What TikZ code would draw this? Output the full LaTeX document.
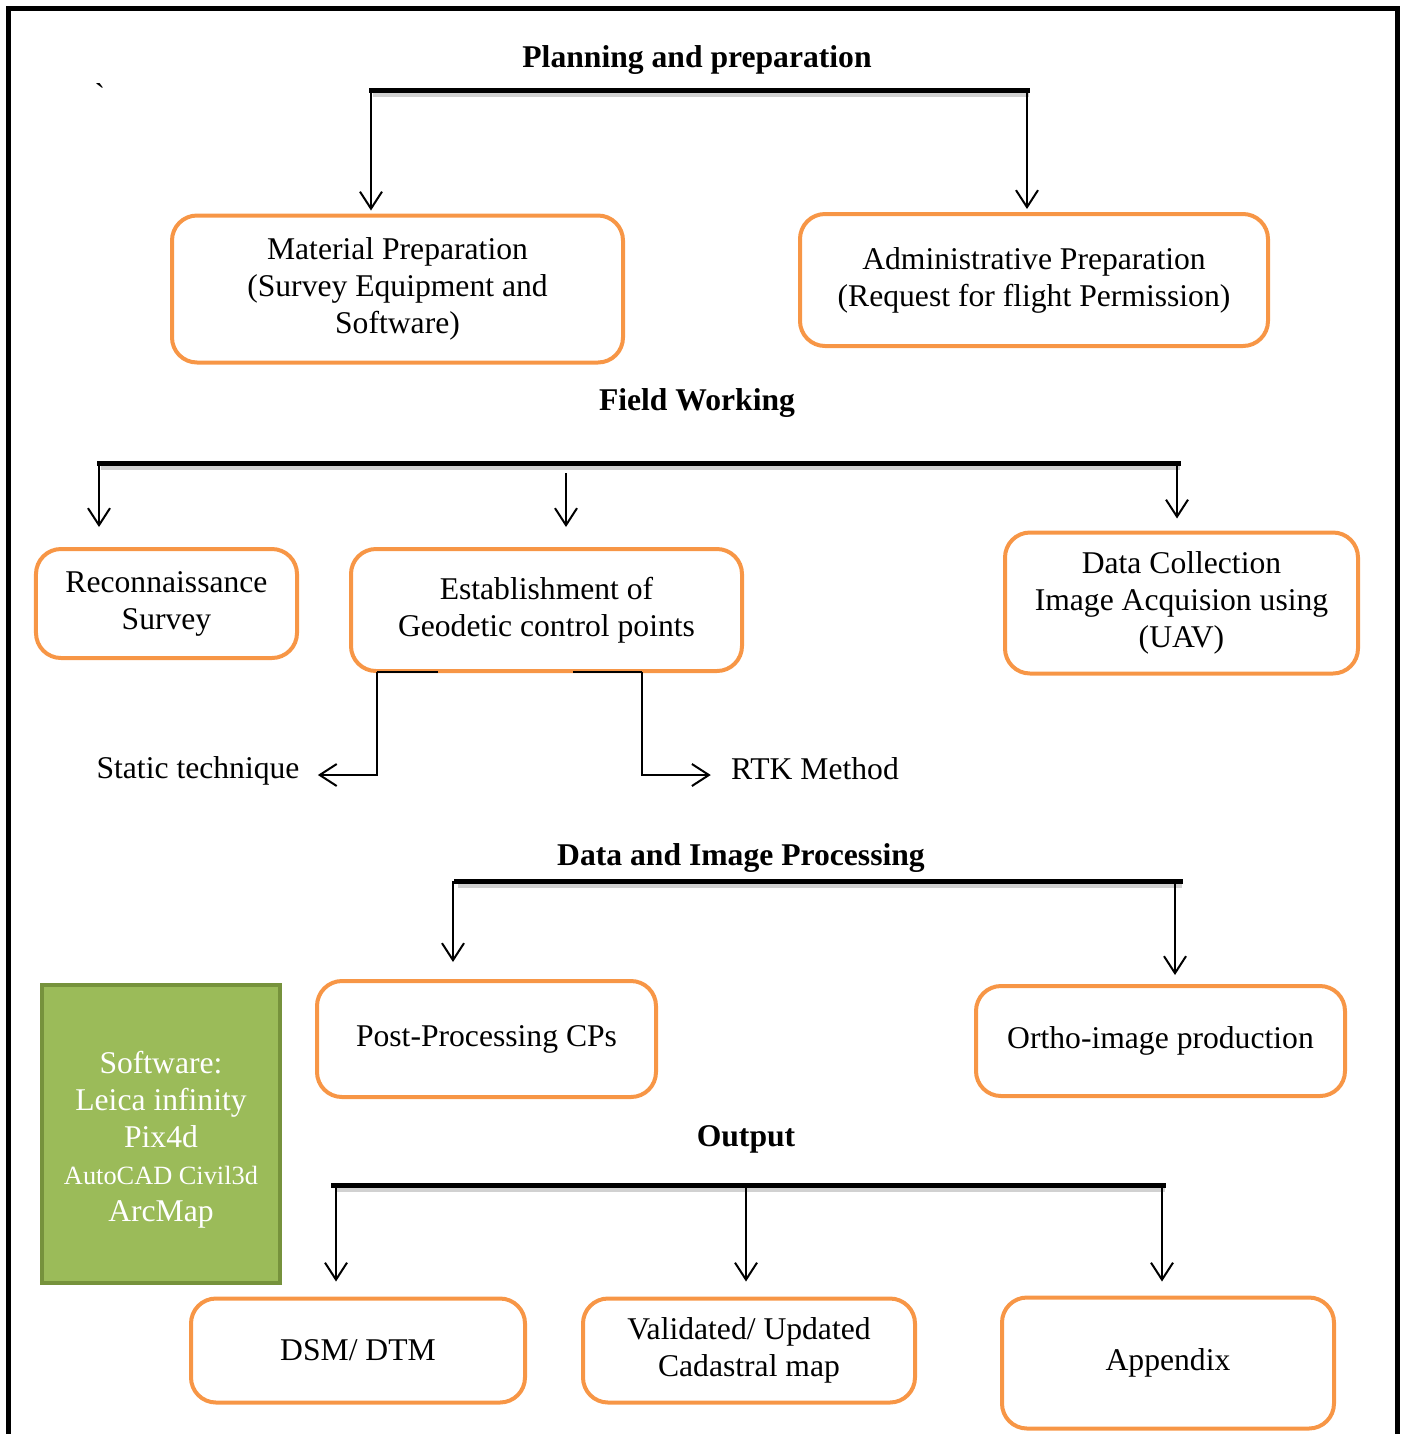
\documentclass[tikz,border=0pt]{standalone}
\usepackage{fontspec}
\setmainfont{Liberation Serif}
\usetikzlibrary{positioning,calc}
\usetikzlibrary{arrows.meta}
\definecolor{boxorange}{HTML}{F79646}
\definecolor{softgreen}{HTML}{9BBB59}
\definecolor{softgreendark}{HTML}{76923C}
\tikzstyle{stage} = [rectangle, rounded corners=0.25cm, draw=boxorange, line width=0.04cm, align=center, inner sep=0pt]
\tikzstyle{heading} = [font=\fontsize{9}{10.5}\selectfont\bfseries]
\tikzstyle{arrow} = [line width=0.02cm, -{Straight Barb[length=0.17cm,width=0.22cm]}]
\tikzstyle{bar} = [line width=0.05cm, line cap=rect]
\tikzstyle{barshadow} = [line width=0.06cm, black!18]

\begin{document}
\begin{tikzpicture}[font=\fontsize{9}{10.5}\selectfont]
						\useasboundingbox (0,0) rectangle (14.03,-14.34);
						\draw[line width=0.05cm] (0.085,-14.34) -- (0.085,-0.085) -- (13.975,-0.085) -- (13.975,-14.34);
						\node (tick) at (1.0,-0.94) {\textasciigrave};
						% planning
						\node at (6.97,-0.60) [heading] (plan) {Planning and preparation};
						\node at (3.975,-2.89) [stage, minimum width=4.51cm, minimum height=1.47cm] (mat) {Material Preparation\\(Survey Equipment and\\Software)};
						\node at (10.34,-2.80) [stage, minimum width=4.68cm, minimum height=1.32cm] (adm) {Administrative Preparation\\(Request for flight Permission)};
						\coordinate (pl) at (3.71,-0.90);
						\coordinate (pr) at (10.27,-0.90);
						% field working
						\node at (6.97,-4.03) [heading] (field) {Field Working};
						\node at (1.665,-6.035) [stage, minimum width=2.61cm, minimum height=1.09cm] (reco) {Reconnaissance\\Survey};
						\node at (5.465,-6.10) [stage, minimum width=3.91cm, minimum height=1.22cm] (est) {Establishment of\\Geodetic control points};
						\node at (11.815,-6.03) [stage, minimum width=3.53cm, minimum height=1.41cm] (data) {Data Collection\\Image Acquision using\\(UAV)};
						\node at (1.98,-7.71) (static) {Static technique};
						\node at (8.15,-7.69) (rtk) {RTK Method};
						\coordinate (fl) at (0.99,-4.63);
						\coordinate (fr) at (11.78,-4.63);
						% processing
						\node at (7.41,-8.58) [heading] (proc) {Data and Image Processing};
						\node at (4.865,-10.39) [stage, minimum width=3.39cm, minimum height=1.16cm] (post) {Post-Processing CPs};
						\node at (11.605,-10.41) [stage, minimum width=3.69cm, minimum height=1.10cm] (ortho) {Ortho-image production};
						\node at (1.61,-11.34) [rectangle, draw=softgreendark, fill=softgreen, line width=0.04cm, minimum width=2.38cm, minimum height=2.98cm, align=center, text=white] (soft) {\rule{0pt}{0.34cm}Software:\\Leica infinity\\Pix4d\\{\fontsize{7.5}{9}\selectfont AutoCAD Civil3d}\\ArcMap};
						\coordinate (dl) at (4.56,-8.81);
						\coordinate (dr) at (11.80,-8.81);
						% output
						\node at (7.46,-11.39) [heading] (out) {Output};
						\node at (3.58,-13.505) [stage, minimum width=3.34cm, minimum height=1.04cm] (dsm) {DSM/ DTM};
						\node at (7.49,-13.505) [stage, minimum width=3.32cm, minimum height=1.04cm] (val) {Validated/ Updated\\Cadastral map};
						\node at (11.68,-13.63) [stage, minimum width=3.32cm, minimum height=1.31cm] (app) {Appendix};
						\coordinate (ol) at (3.33,-11.85);
						\coordinate (or) at (11.63,-11.85);
						% bars
						\foreach \a/\b in {pl/pr, fl/fr, dl/dr, ol/or}
							\draw[barshadow] ($(\a)+(0.02,-0.04)$) -- ($(\b)+(0.02,-0.04)$);
						\foreach \a/\b in {pl/pr, fl/fr, dl/dr, ol/or}
							\draw[bar] (\a) -- (\b);
						% arrows
						\draw[arrow, shorten >=0.03cm] (pl) -- (pl |- mat.north);
						\draw[arrow, shorten >=0.03cm] (pr) -- (pr |- adm.north);
						\draw[arrow, shorten >=0.20cm] (fl) -- (fl |- reco.north);
						\draw[arrow, shorten <=0.10cm, shorten >=0.20cm] (5.66,-4.63) -- (5.66,-4.63 |- est.north);
						\draw[arrow, shorten >=0.12cm] (11.77,-4.63) -- (11.77,-4.63 |- data.north);
						\draw[line width=0.02cm] ($(est.south west)+(0.89,0.01)$) -- ++(-0.61,0);
						\draw[line width=0.02cm] ($(est.south west)+(2.24,0.01)$) -- ++(0.69,0);
						\draw[arrow] ($(est.south west)+(0.28,0.01)$) |- ($(static.east)+(0.06,-0.04)$);
						\draw[arrow] ($(est.south west)+(2.93,0.01)$) |- ($(rtk.west)+(-0.08,-0.06)$);
						\draw[arrow, shorten >=0.17cm] (4.53,-8.81) -- (4.53,-8.81 |- post.north);
						\draw[arrow, shorten >=0.09cm] (11.75,-8.81) -- (11.75,-8.81 |- ortho.north);
						\draw[arrow, shorten >=0.15cm] (3.36,-11.85) -- (3.36,-11.85 |- dsm.north);
						\draw[arrow, shorten >=0.15cm] (7.46,-11.85) -- (7.46,-11.85 |- val.north);
						\draw[arrow, shorten >=0.14cm] (11.62,-11.85) -- (11.62,-11.85 |- app.north);
					\end{tikzpicture}
\end{document}
